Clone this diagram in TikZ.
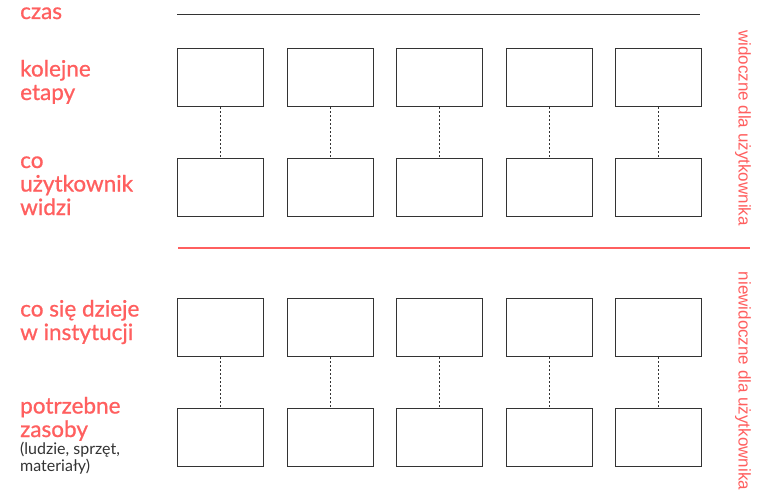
\documentclass[tikz,border=0pt]{standalone}
\usepackage{fontspec}
\setmainfont{Lato}
\newfontfamily\opisfont[FakeBold=0.9]{Lato}
\newfontfamily\bokfont{Liberation Sans}
\definecolor{etykieta}{RGB}{255,95,95}
\definecolor{ramka}{RGB}{51,51,51}
\begin{document}
\begin{tikzpicture}[x=1pt,y=-1pt,
    etap/.style={draw=ramka,line width=1.2pt,minimum width=86pt,minimum height=58pt,inner sep=0pt,anchor=north west},
    opis/.style={text=etykieta,font=\opisfont\fontsize{22.5}{23.5}\selectfont,align=left,anchor=base west,inner sep=0pt},
    dopisek/.style={text=ramka,font=\fontsize{16}{15}\selectfont,align=left,anchor=base west,inner sep=0pt},
    bok/.style={text=etykieta,font=\bokfont\fontsize{17}{20}\selectfont,rotate=-90,inner sep=0pt},
    laczenie/.style={draw=ramka,line width=0.8pt,dash pattern=on 2pt off 2pt}]
    \useasboundingbox (0,0) rectangle (759,494);
    % os czasu
    \coordinate (czasL) at (177,15);
    \coordinate (czasP) at (700,15);
    \draw[ramka,line width=1pt] (czasL) -- (czasP);
    % granica widocznosci
    \coordinate (granicaL) at (178,248);
    \coordinate (granicaP) at (750,248);
    \draw[etykieta,line width=1.5pt] (granicaL) -- (granicaP);
    % etykiety po lewej (kotwica na linii bazowej ostatniego wiersza)
    \node[opis] (czas) at (20,19) {czas};
    \node[opis] (kolejne) at (20,100) {kolejne\\etapy};
    \node[opis] (widzi) at (20,215) {co\\użytkownik\\widzi};
    \node[opis] (dzieje) at (20,340) {co się dzieje\\w instytucji};
    \node[opis] (zasoby) at (20,437) {potrzebne\\zasoby};
    \node[dopisek] (zasobyopis) at (20,471) {(ludzie, sprzęt,\\materiały)};
    % etykiety z boku
    \node[bok] (widoczne) at (743,128) {widoczne dla użytkownika};
    \node[bok] (niewidoczne) at (743,381) {niewidoczne dla użytkownika};
    % kolumny etapow
    \foreach \i in {0,...,4}{
        \node[etap] (etap\i) at (177+109.5*\i,48) {};
        \node[etap] (ekran\i) at (177+109.5*\i,158) {};
        \node[etap] (inst\i) at (177+109.5*\i,298) {};
        \node[etap] (zasob\i) at (177+109.5*\i,408) {};
        \draw[laczenie] (etap\i.south) -- (ekran\i.north);
        \draw[laczenie] (inst\i.south) -- (zasob\i.north);
    }
\end{tikzpicture}
\end{document}
